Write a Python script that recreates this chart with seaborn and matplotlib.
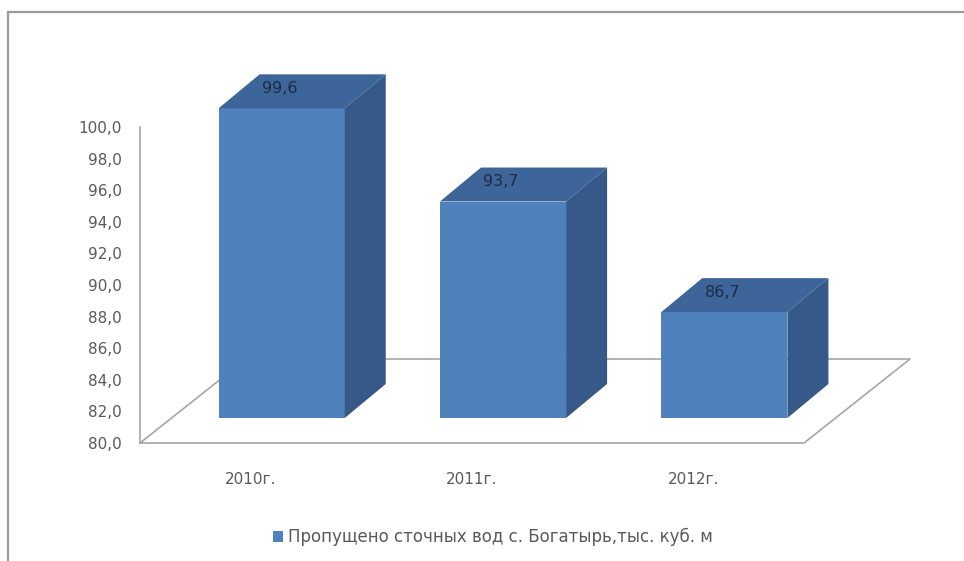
import matplotlib
matplotlib.use("Agg")
import matplotlib.pyplot as plt
import seaborn as sns
import pandas as pd
from matplotlib.patches import Polygon
from matplotlib.lines import Line2D

# Data
years = ["2010г.", "2011г.", "2012г."]
volumes = [99.6, 93.7, 86.7]
series_name = "Пропущено сточных вод с. Богатырь,тыс. куб. м"
y_ticks = [80, 82, 84, 86, 88, 90, 92, 94, 96, 98, 100]

df = pd.DataFrame({"year": years, "volume": volumes, "series": series_name})

W, H = 964, 561
sns.set_theme(style="white")
plt.rcParams["font.family"] = ["DejaVu Sans"]

FRONT = "#4F81BD"
TOP = "#3E6599"
SIDE = "#36598A"
AXIS_GRAY = "#A6A6A6"
TEXT_GRAY = "#595959"

fig = plt.figure(figsize=(W / 100, H / 100), dpi=100)
fig.patch.set_facecolor("white")


def px_rect(x0, y_top, x1, y_bot):
    return [x0 / W, 1 - y_bot / H, (x1 - x0) / W, (y_bot - y_top) / H]


AX_L, AX_R, AX_T, AX_B = 140, 804, 127, 443
SHIFT_X, SHIFT_Y = 31, 25

# value axis + floor
ax = fig.add_axes(px_rect(AX_L, AX_T, AX_R, AX_B))
ax.set_xlim(-0.5, 2.5)
ax.set_ylim(80, 100)
ax.set_yticks(y_ticks)
ax.set_yticklabels([f"{t:.1f}".replace(".", ",") for t in y_ticks])
ax.set_xticks(range(len(years)))
ax.set_xticklabels(years)
for s in ["top", "right", "bottom"]:
    ax.spines[s].set_visible(False)
ax.spines["left"].set_color(AXIS_GRAY)
ax.spines["left"].set_linewidth(1.2)
ax.tick_params(axis="y", length=0, pad=13, labelsize=11, labelcolor=TEXT_GRAY)
ax.tick_params(axis="x", length=0, pad=21, labelsize=11, labelcolor=TEXT_GRAY)
ax.patch.set_visible(False)

px_per_x = (AX_R - AX_L) / 3.0
px_per_y = (AX_B - AX_T) / 20.0
floor_dx = 106 / px_per_x
floor_dy = 84 / px_per_y
floor = [(-0.5, 80), (2.5, 80), (2.5 + floor_dx, 80 + floor_dy),
         (-0.5 + floor_dx, 80 + floor_dy), (-0.5, 80)]
ax.plot([p[0] for p in floor], [p[1] for p in floor], color=AXIS_GRAY,
        lw=1.2, clip_on=False, zorder=1)

# columns
ax2 = fig.add_axes(px_rect(AX_L + SHIFT_X, AX_T - SHIFT_Y, AX_R + SHIFT_X, AX_B - SHIFT_Y))
sns.barplot(data=df, x="year", y="volume", hue="series", palette=[FRONT],
            saturation=1, width=0.57, ax=ax2, linewidth=0, legend=True)
ax2.set_xlim(-0.5, 2.5)
ax2.set_ylim(80, 100)
ax2.axis("off")
ax2.patch.set_visible(False)

ddx = 41 / px_per_x
ddy = 34 / px_per_y
bars = [p for p in ax2.patches if p.get_height() > 0]
for bar, v in zip(bars, volumes):
    x0 = bar.get_x()
    x1 = x0 + bar.get_width()
    top = Polygon([(x0, v), (x1, v), (x1 + ddx, v + ddy), (x0 + ddx, v + ddy)],
                  closed=True, facecolor=TOP, edgecolor="none", clip_on=False, zorder=3)
    side = Polygon([(x1, 80), (x1, v), (x1 + ddx, v + ddy), (x1 + ddx, 80 + ddy)],
                   closed=True, facecolor=SIDE, edgecolor="none", clip_on=False, zorder=3)
    ax2.add_patch(top)
    ax2.add_patch(side)
    ax2.text(x0 + ddx + 0.01, v + ddy * 0.58, f"{v:.1f}".replace(".", ","),
             ha="left", va="center", fontsize=11.5, color="#1C2B48", zorder=4,
             clip_on=False)

handles, labels = ax2.get_legend_handles_labels()
ax2.get_legend().remove()
fig.legend(handles, labels, loc="center", bbox_to_anchor=(493 / W, 1 - 537 / H),
           frameon=False, handlelength=0.6, handleheight=0.6, handletextpad=0.35,
           fontsize=12, labelcolor=TEXT_GRAY)

# chart frame
fig.add_artist(Line2D([8 / W, 1], [1 - 12 / H, 1 - 12 / H], transform=fig.transFigure,
                      color="#9A9A9A", lw=1.6))
fig.add_artist(Line2D([8 / W, 8 / W], [0, 1 - 12 / H], transform=fig.transFigure,
                      color="#9A9A9A", lw=1.6))

fig.savefig("out.png", dpi=100, facecolor="white")
